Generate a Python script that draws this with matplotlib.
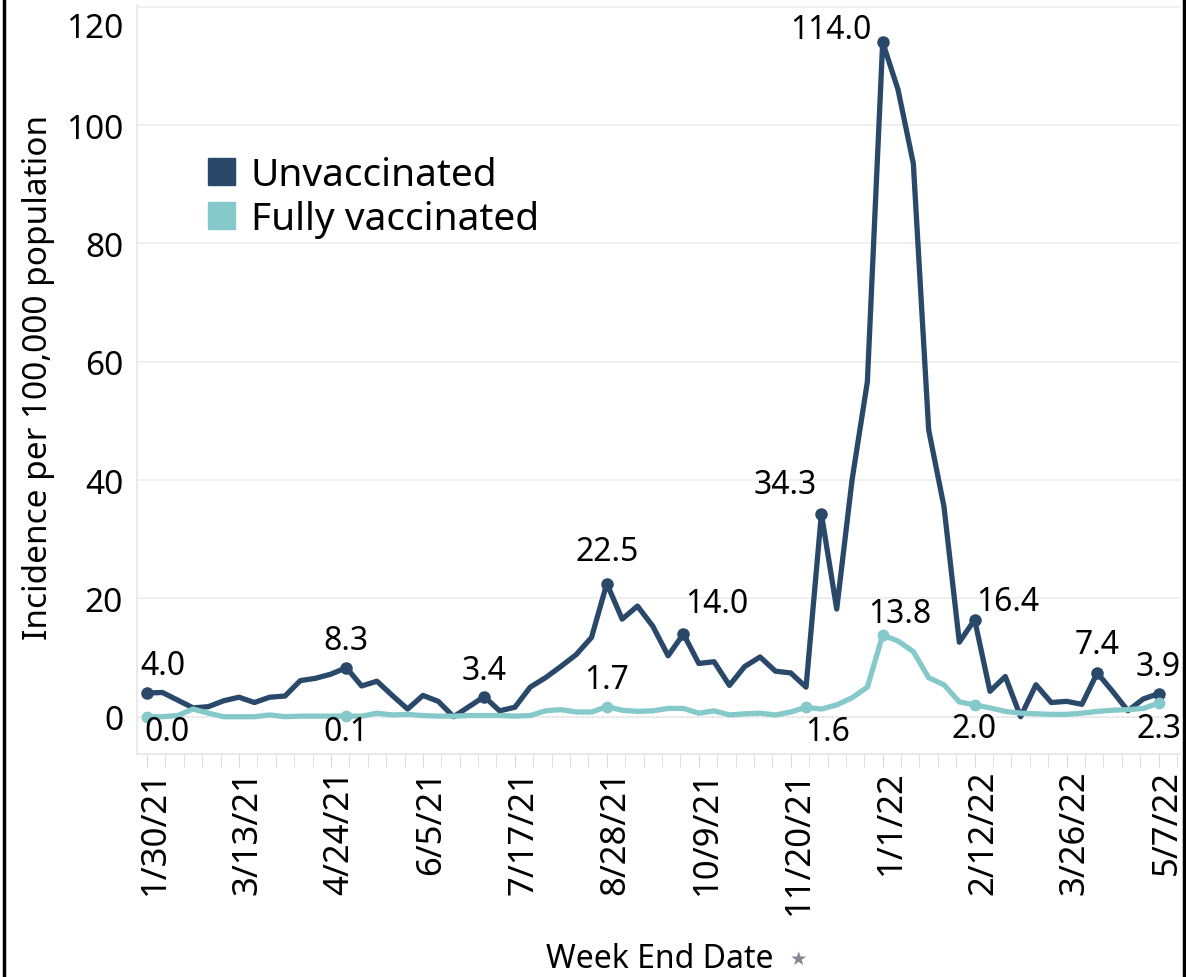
import matplotlib
matplotlib.use("Agg")
import matplotlib.pyplot as plt
import matplotlib.transforms as mtransforms
from matplotlib.patches import Patch
from matplotlib.lines import Line2D
from matplotlib.ticker import AutoMinorLocator
import numpy as np
import pandas as pd

plt.rcParams['font.family'] = ['Noto Sans', 'DejaVu Sans']

# weekly data, week ending 1/30/21 .. 5/7/22
week_end = pd.date_range('2021-01-30', '2022-05-07', freq='7D')

unvaccinated = [4.0, 4.1, 2.8, 1.5, 1.7, 2.7, 3.3, 2.4, 3.3, 3.5,
                6.1, 6.5, 7.2, 8.3, 5.2, 6.0, 3.6, 1.3, 3.6, 2.6,
                0.0, 1.7, 3.4, 1.0, 1.6, 5.0, 6.6, 8.5, 10.5, 13.4,
                22.5, 16.5, 18.7, 15.3, 10.3, 14.0, 9.0, 9.3, 5.3, 8.5,
                10.1, 7.7, 7.4, 5.0, 34.3, 18.2, 40.0, 56.6, 114.0, 106.0,
                93.5, 48.5, 35.5, 12.6, 16.4, 4.3, 6.8, 0.0, 5.4, 2.4,
                2.6, 2.1, 7.4, 4.3, 1.0, 3.0, 3.9]

fully_vaccinated = [0.0, 0.0, 0.2, 1.3, 0.6, 0.0, 0.0, 0.0, 0.3, 0.0,
                    0.1, 0.1, 0.1, 0.1, 0.1, 0.6, 0.3, 0.4, 0.2, 0.1,
                    0.1, 0.2, 0.2, 0.2, 0.1, 0.2, 1.0, 1.2, 0.8, 0.8,
                    1.7, 1.1, 0.9, 1.0, 1.4, 1.4, 0.6, 1.0, 0.3, 0.5,
                    0.6, 0.3, 0.8, 1.6, 1.3, 2.0, 3.2, 5.0, 13.8, 12.8,
                    11.0, 6.6, 5.4, 2.5, 2.0, 1.5, 0.9, 0.6, 0.5, 0.4,
                    0.4, 0.6, 0.9, 1.1, 1.2, 1.4, 2.3]

# labelled weeks (index) and label offsets in pixels (dx, dy; dy>0 = up)
unvax_labelled = [0, 13, 22, 30, 35, 44, 48, 54, 62, 66]
unvax_offsets = [(16, 28), (0, 27), (0, 26), (0, 32), (33, 30), (-36, 29),
                 (-52, 13), (33, 18), (0, 28), (0, 27)]
vax_labelled = [0, 13, 30, 43, 48, 54, 66]
vax_offsets = [(20, -15), (0, -15), (0, 27), (22, -24), (17, 22), (-1, -24), (0, -25)]

tick_dates = week_end[::6]
tick_labels = [f"{d.month}/{d.day}/{d.year % 100}" for d in tick_dates]

dark = '#2a4869'
teal = '#86c9ca'

fig = plt.figure(figsize=(11.86, 9.78), dpi=100)
ax = fig.add_axes([137 / 1186, 1 - 755 / 978, (1180 - 137) / 1186, (755 - 6) / 978])

ax.plot(week_end, unvaccinated, color=dark, lw=3.8, zorder=3)
ax.plot(week_end, fully_vaccinated, color=teal, lw=3.8, zorder=4)

ux = week_end[unvax_labelled]
uy = np.array(unvaccinated)[unvax_labelled]
ax.plot(ux, uy, 'o', color=dark, ms=8, zorder=5)
vx = week_end[vax_labelled]
vy = np.array(fully_vaccinated)[vax_labelled]
ax.plot(vx, vy, 'o', color=teal, ms=7.5, zorder=5)

px2pt = 0.72
for x, y, (dx, dy) in zip(ux, uy, unvax_offsets):
    ax.annotate(f"{y:.1f}", (x, y), xytext=(dx * px2pt, dy * px2pt),
                textcoords='offset points', ha='center', va='center',
                fontsize=23, color='black', zorder=6)
for x, y, (dx, dy) in zip(vx, vy, vax_offsets):
    ax.annotate(f"{y:.1f}", (x, y), xytext=(dx * px2pt, dy * px2pt),
                textcoords='offset points', ha='center', va='center',
                fontsize=23, color='black', zorder=6)

ax.axhline(0, color='#b5b5b5', lw=1.2, ls=(0, (1, 2)), zorder=1)

ax.set_ylim(-6.3, 120.3)
ax.set_yticks([0, 20, 40, 60, 80, 100, 120])
ax.set_xlim(week_end[0] - pd.Timedelta(days=4.6), week_end[-1] + pd.Timedelta(days=9.8))
ax.set_xticks(tick_dates)
ax.set_xticklabels(tick_labels, rotation=90, fontsize=25)
ax.xaxis.set_minor_locator(AutoMinorLocator(5))
ax.tick_params(axis='y', labelsize=24, length=0, pad=10)
ax.tick_params(axis='x', which='both', length=9, color='#d9d9d9', pad=2)

# rotated date labels sit a little right of their tick, as in the original
shift = mtransforms.ScaledTranslation(6 / 72, 0, fig.dpi_scale_trans)
for lbl in ax.get_xticklabels():
    lbl.set_transform(lbl.get_transform() + shift)

# the top tick label sits inside the figure like in the original
top_lbl = ax.get_yticklabels()[-1]
top_lbl.set_va('top')
top_lbl.set_transform(top_lbl.get_transform() +
                      mtransforms.ScaledTranslation(0, -4 / 72, fig.dpi_scale_trans))

ax.grid(axis='y', color='#ececec', lw=1.2)
for s in ['top', 'right']:
    ax.spines[s].set_visible(False)
ax.spines['left'].set_color('#e6e6e6')
ax.spines['bottom'].set_color('#e6e6e6')
ax.spines['left'].set_linewidth(1.2)
ax.spines['bottom'].set_linewidth(1.2)

ax.set_ylabel('Incidence per 100,000 population', fontsize=24, va='center', ha='center')
ax.yaxis.set_label_coords(-(137 - 39) / 1043, 0.504)
ax.set_xlabel('Week End Date', fontsize=23, va='center', ha='center')
ax.xaxis.set_label_coords((660 - 137) / 1043, -(960 - 755) / 749)
# little grey pin next to the axis title
fig.text(798 / 1186, 1 - 960 / 978, '\u2605', fontsize=14, color='#7f8893',
         ha='center', va='center')

handles = [Patch(color=dark, label='Unvaccinated'),
           Patch(color=teal, label='Fully vaccinated')]
ax.legend(handles=handles, loc='upper left', bbox_to_anchor=(0.068, 0.798),
          frameon=False, fontsize=28, handlelength=0.7, handleheight=0.7,
          handletextpad=0.4, labelspacing=0.15, borderpad=0, borderaxespad=0)

# black side borders of the image
fig.add_artist(Line2D([3.5 / 1186, 3.5 / 1186], [0, 1], color='black', lw=2.5))
fig.add_artist(Line2D([1184 / 1186, 1184 / 1186], [0, 1], color='black', lw=2.5))

fig.savefig('out.png', dpi=100, facecolor='white')
